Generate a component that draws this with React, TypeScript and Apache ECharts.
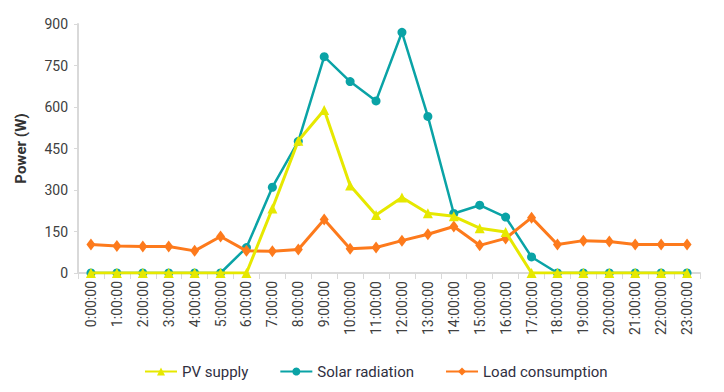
import React, { useEffect, useRef } from "react";
import * as echarts from "echarts";

const hours = [
  "0:00:00", "1:00:00", "2:00:00", "3:00:00", "4:00:00", "5:00:00", "6:00:00", "7:00:00",
  "8:00:00", "9:00:00", "10:00:00", "11:00:00", "12:00:00", "13:00:00", "14:00:00", "15:00:00",
  "16:00:00", "17:00:00", "18:00:00", "19:00:00", "20:00:00", "21:00:00", "22:00:00", "23:00:00",
];
const pvSupply = [0, 0, 0, 0, 0, 0, 0, 233, 478, 589, 316, 210, 273, 216, 205, 162, 148, 0, 0, 0, 0, 0, 0, 0];
const solarRadiation = [0, 0, 0, 0, 0, 0, 92, 310, 476, 782, 692, 622, 870, 566, 215, 245, 202, 58, 0, 0, 0, 0, 0, 0];
const loadConsumption = [103, 98, 96, 96, 80, 132, 80, 79, 85, 193, 88, 92, 117, 140, 168, 100, 125, 200, 103, 117, 114, 103, 103, 103];
const yTicks = { min: 0, max: 900, interval: 150 };

const FONT = "Roboto, 'Noto Sans', sans-serif";

export default function App() {
  const ref = useRef<HTMLDivElement>(null);
  useEffect(() => {
    if (!ref.current) return;
    const chart = echarts.init(ref.current, undefined, { renderer: "svg" });
    chart.setOption({
      animation: false,
      textStyle: { fontFamily: FONT },
      grid: { left: 78, right: 24, top: 24, bottom: 119, containLabel: false },
      legend: {
        top: 359,
        left: 139,
        itemGap: 31,
        itemWidth: 32,
        itemHeight: 10,
        textStyle: { fontSize: 15, color: "#2f2f3f", fontFamily: FONT },
        data: ["PV supply", "Solar radiation", "Load consumption"],
      },
      xAxis: {
        type: "category",
        data: hours,
        boundaryGap: true,
        axisLine: { lineStyle: { color: "#d9d9d9", width: 2 } },
        axisTick: { show: true, alignWithLabel: false, length: 6, lineStyle: { color: "#d9d9d9" } },
        axisLabel: { rotate: 90, fontSize: 14, color: "#404040", interval: 0, margin: 8, fontFamily: FONT },
        splitLine: { show: false },
      },
      yAxis: {
        type: "value",
        min: yTicks.min,
        max: yTicks.max,
        interval: yTicks.interval,
        name: "Power (W)",
        nameLocation: "middle",
        nameGap: 50,
        nameRotate: 90,
        nameTextStyle: { fontSize: 15, fontWeight: "bold", color: "#333", fontFamily: FONT },
        axisLine: { show: true, lineStyle: { color: "#d9d9d9", width: 2 } },
        axisTick: { show: true, length: 4, lineStyle: { color: "#d9d9d9" } },
        axisLabel: { fontSize: 14, color: "#404040", margin: 10, fontFamily: FONT },
        splitLine: { show: false },
      },
      series: [
        {
          name: "Solar radiation",
          type: "line",
          data: solarRadiation,
          symbol: "circle",
          symbolSize: 9,
          lineStyle: { color: "#0aa3a6", width: 2.5 },
          itemStyle: { color: "#0aa3a6" },
          z: 2,
        },
        {
          name: "Load consumption",
          type: "line",
          data: loadConsumption,
          symbol: "diamond",
          symbolSize: [9, 12],
          lineStyle: { color: "#fd7a1c", width: 3 },
          itemStyle: { color: "#fd7a1c" },
          z: 3,
        },
        {
          name: "PV supply",
          type: "line",
          data: pvSupply,
          symbol: "triangle",
          symbolSize: 10,
          lineStyle: { color: "#e6e800", width: 3 },
          itemStyle: { color: "#e6e800" },
          z: 4,
        },
      ],
    });
    return () => chart.dispose();
  }, []);
  return <div ref={ref} style={{ width: 724, height: 392, position: "absolute", left: 0, top: 0 }} />;
}
